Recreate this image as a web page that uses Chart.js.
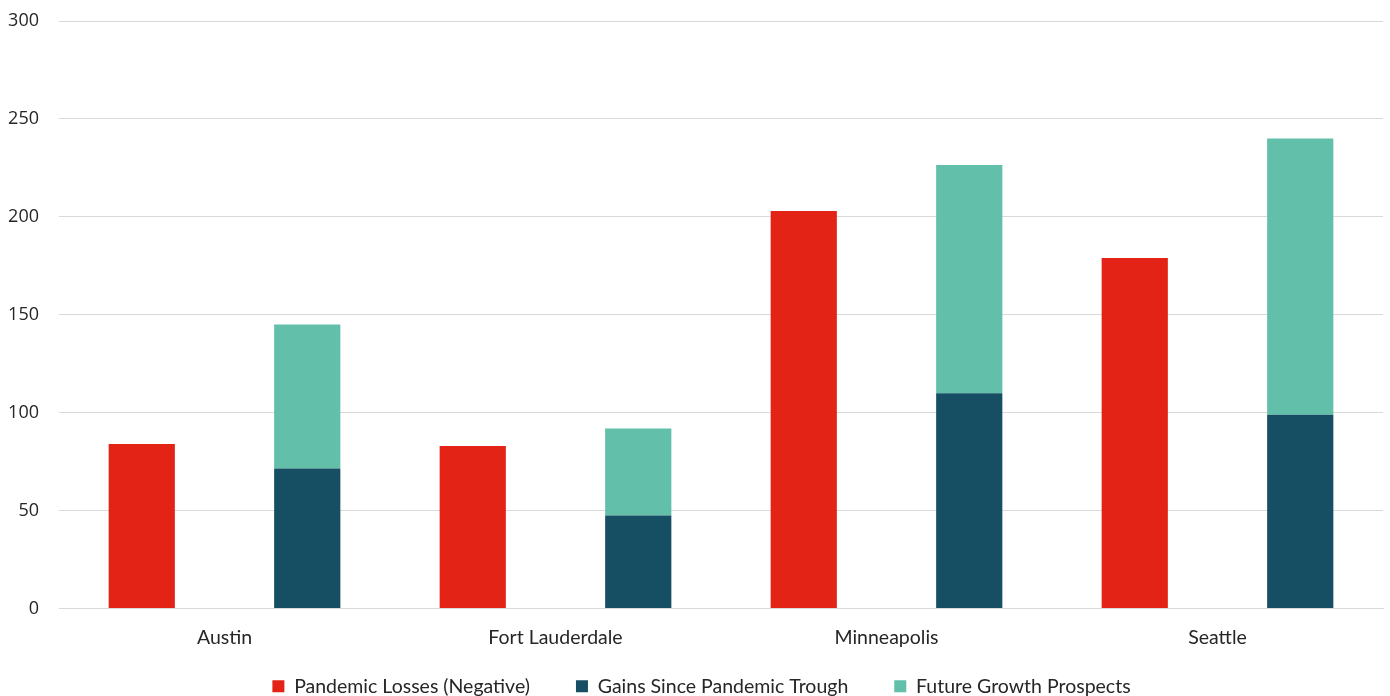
<!DOCTYPE html>
<html lang="en">
<head>
    <meta charset="UTF-8">
    <title>Pandemic losses vs gains</title>
    <script src="https://cdn.jsdelivr.net/npm/chart.js"></script>
    <style>
        html, body { margin: 0; padding: 0; background: #fff; }
        #wrap { width: 1390px; height: 696px; }
    </style>
</head>
<body>
    <div id="wrap">
        <canvas id="barChart"></canvas>
    </div>

    <script>
        // values
        const cities = ['Austin', 'Fort Lauderdale', 'Minneapolis', 'Seattle'];
        const pandemicLosses = [84, 83, 203, 179];
        const gainsSinceTrough = [71.5, 47.5, 110, 99];
        const futureGrowth = [73.5, 44.5, 116.5, 141];
        const yTicks = [0, 50, 100, 150, 200, 250, 300];

        Chart.defaults.font.family = 'Lato, "Open Sans", sans-serif';
        Chart.defaults.color = '#262626';

        // legend keeps a short layout box, but is drawn lower so the
        // wide item spacing does not push the x axis up
        const legendShift = {
            id: 'legendShift',
            afterLayout(chart) {
                const lg = chart.legend;
                const lbl = lg.options.labels;
                lg.top = lg.bottom - (lbl.font.size + lbl.padding);
                lg.left += 10;
                lg.right += 10;
            }
        };

        const ctx = document.getElementById('barChart').getContext('2d');
        new Chart(ctx, {
            type: 'bar',
            data: {
                labels: cities,
                datasets: [
                    {
                        label: 'Pandemic Losses (Negative)',
                        data: pandemicLosses,
                        backgroundColor: '#E32316',
                        stack: 'losses'
                    },
                    {
                        label: 'Gains Since Pandemic Trough',
                        data: gainsSinceTrough,
                        backgroundColor: '#164F63',
                        stack: 'gains'
                    },
                    {
                        label: 'Future Growth Prospects',
                        data: futureGrowth,
                        backgroundColor: '#62BFA9',
                        stack: 'gains'
                    }
                ]
            },
            options: {
                responsive: true,
                maintainAspectRatio: false,
                animation: false,
                categoryPercentage: 1.0,
                barPercentage: 0.4,
                layout: { padding: { top: 0, right: 7, bottom: 0 } },
                plugins: {
                    tooltip: { enabled: false },
                    legend: {
                        position: 'bottom',
                        maxHeight: 30,
                        labels: {
                            boxWidth: 12,
                            boxHeight: 12,
                            padding: 46,
                            font: { size: 19.5 },
                            color: '#262626'
                        }
                    }
                },
                scales: {
                    x: {
                        stacked: true,
                        grid: { display: false, drawTicks: false },
                        border: { color: '#d9d9d9', width: 1 },
                        ticks: { font: { size: 19.5 }, padding: 17 }
                    },
                    y: {
                        stacked: true,
                        min: 0,
                        max: 300,
                        afterBuildTicks: axis => {
                            axis.ticks = yTicks.map(v => ({ value: v }));
                        },
                        afterFit: axis => {
                            axis.width = 59;
                            axis.paddingTop = 21;
                        },
                        grid: { color: '#d9d9d9', drawTicks: false },
                        border: { display: false },
                        ticks: {
                            font: { family: '"Open Sans", sans-serif', size: 18 },
                            padding: 20
                        }
                    }
                }
            },
            plugins: [legendShift]
        });
    </script>
</body>
</html>
